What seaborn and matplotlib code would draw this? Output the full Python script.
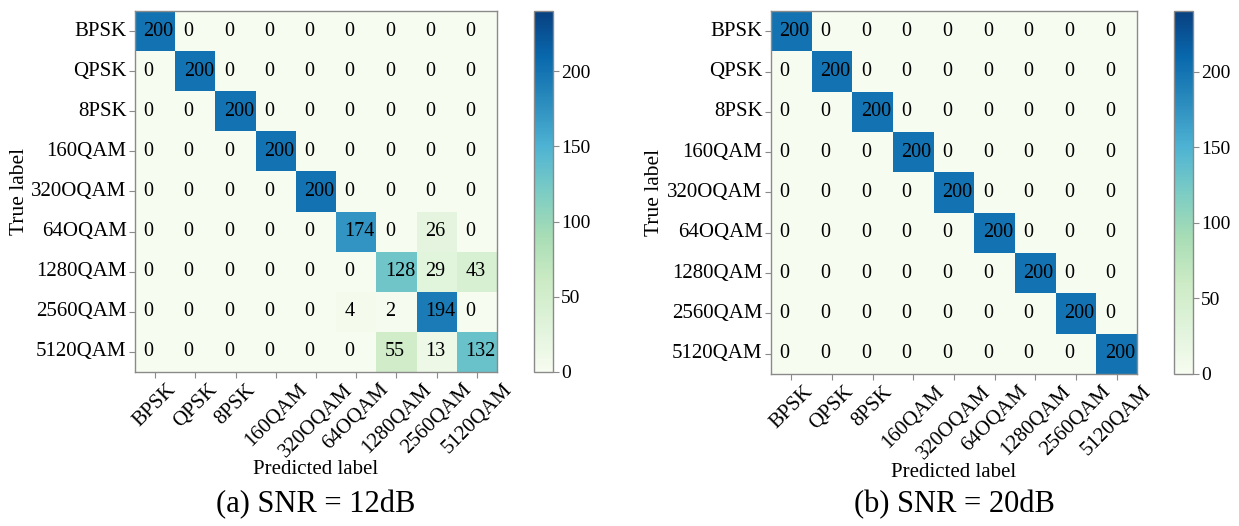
import numpy as np
import pandas as pd
import matplotlib
matplotlib.use("Agg")
import matplotlib.pyplot as plt
import seaborn as sns

sns.set_style("white")
plt.rcParams['font.family'] = ['Liberation Serif', 'DejaVu Serif']
plt.rcParams['text.color'] = 'black'
plt.rcParams['axes.labelcolor'] = 'black'
plt.rcParams['xtick.color'] = 'black'
plt.rcParams['ytick.color'] = 'black'

classes = ["BPSK", "QPSK", "8PSK", "160QAM", "320OQAM",
           "64OQAM", "1280QAM", "2560QAM", "5120QAM"]

# Confusion counts (rows: true class, columns: predicted class)
cm_12db = [
    [200, 0, 0, 0, 0, 0, 0, 0, 0],
    [0, 200, 0, 0, 0, 0, 0, 0, 0],
    [0, 0, 200, 0, 0, 0, 0, 0, 0],
    [0, 0, 0, 200, 0, 0, 0, 0, 0],
    [0, 0, 0, 0, 200, 0, 0, 0, 0],
    [0, 0, 0, 0, 0, 174, 0, 26, 0],
    [0, 0, 0, 0, 0, 0, 128, 29, 43],
    [0, 0, 0, 0, 0, 4, 2, 194, 0],
    [0, 0, 0, 0, 0, 0, 55, 13, 132],
]
cm_20db = [
    [200, 0, 0, 0, 0, 0, 0, 0, 0],
    [0, 200, 0, 0, 0, 0, 0, 0, 0],
    [0, 0, 200, 0, 0, 0, 0, 0, 0],
    [0, 0, 0, 200, 0, 0, 0, 0, 0],
    [0, 0, 0, 0, 200, 0, 0, 0, 0],
    [0, 0, 0, 0, 0, 200, 0, 0, 0],
    [0, 0, 0, 0, 0, 0, 200, 0, 0],
    [0, 0, 0, 0, 0, 0, 0, 200, 0],
    [0, 0, 0, 0, 0, 0, 0, 0, 200],
]
captions = ["(a) SNR = 12dB", "(b) SNR = 20dB"]
cbar_ticks = [0, 50, 100, 150, 200]

W, H = 1239, 526
fig = plt.figure(figsize=(W / 100, H / 100), dpi=100)

def px_rect(x0, y0, x1, y1):
    return [x0 / W, 1 - y1 / H, (x1 - x0) / W, (y1 - y0) / H]

panels = [
    (cm_12db, captions[0], px_rect(135, 11, 497, 372), px_rect(534, 11, 553, 372)),
    (cm_20db, captions[1], px_rect(771, 11, 1137, 374), px_rect(1174, 11, 1193, 374)),
]

edge = "#8a8a8a"
for data, caption, rect, crect in panels:
    ax = fig.add_axes(rect)
    cax = fig.add_axes(crect)
    df = pd.DataFrame(data, index=classes, columns=classes)
    sns.heatmap(df, ax=ax, cbar_ax=cax, cmap="GnBu", vmin=0, vmax=240,
                annot=True, fmt="d", annot_kws={"fontsize": 14.5, "color": "black"},
                cbar_kws={"ticks": cbar_ticks})
    # numbers sit toward the left side of each cell
    for t in ax.texts:
        x, y = t.get_position()
        t.set_position((x - 0.29, y))
        t.set_ha("left")
        t.set_color("black")
    for s in ax.spines.values():
        s.set_visible(True)
        s.set_color(edge)
        s.set_linewidth(1.0)
    ax.tick_params(axis="both", which="major", length=4, width=0.8,
                   color=edge, labelcolor="black", labelsize=15,
                   left=True, bottom=True, pad=2)
    ax.set_xticklabels(classes, rotation=45, ha="center")
    ax.set_yticklabels(classes, rotation=0)
    ax.set_xlabel("Predicted label", fontsize=15)
    ax.set_ylabel("True label", fontsize=15.5)
    ax.xaxis.set_label_coords(0.5, -0.245)
    ax.yaxis.set_label_coords(-0.292, 0.5)

    cb = ax.collections[0].colorbar
    cb.outline.set_edgecolor(edge)
    cb.outline.set_linewidth(1.0)
    cax.tick_params(labelsize=14, length=4, width=0.8, color=edge,
                    labelcolor="black", pad=2)

    bb = ax.get_position()
    fig.text(bb.x0 + bb.width / 2, 0.04, caption, ha="center", va="center",
             fontsize=22)

fig.savefig("out.png", dpi=100, facecolor="white")
